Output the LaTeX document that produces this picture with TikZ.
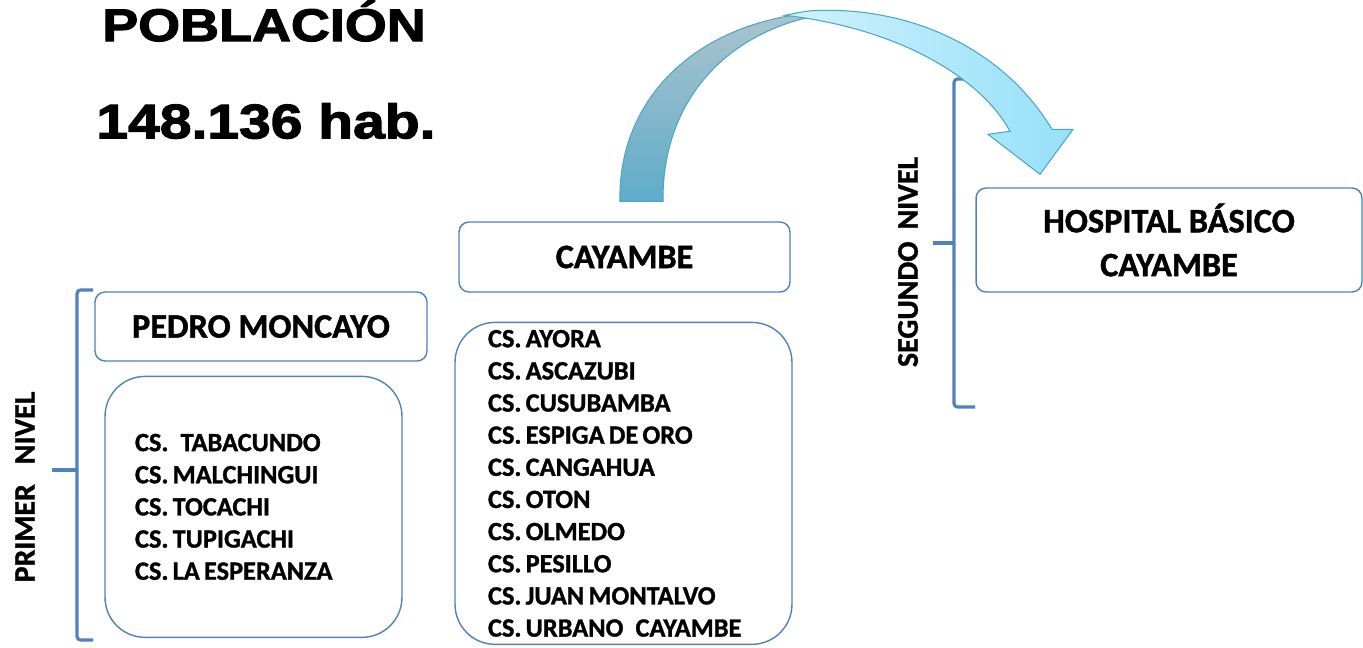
\documentclass[tikz,border=0pt]{standalone}
\usepackage{fontspec}
\setmainfont{Carlito}[BoldFeatures={FakeBold=1.2}]
\newfontfamily\titlefont[FakeStretch=1.18,FakeBold=2.5]{Liberation Sans Bold}
\usetikzlibrary{positioning}

\definecolor{boxblue}{RGB}{79,129,189}
\definecolor{arrowline}{RGB}{75,165,200}
\definecolor{arrowdark}{RGB}{95,172,202}
\definecolor{arrowgrey}{RGB}{172,196,205}
\definecolor{arrowlight}{RGB}{208,241,252}
\definecolor{arrowcyan}{RGB}{150,225,248}

\newcommand{\tightspaces}{\frenchspacing\spaceskip=0.16em\relax}

\tikzstyle{headbox} = [rectangle, rounded corners=0.2cm, draw=boxblue,
line width=0.8pt, fill=white, minimum width=6.64cm, minimum height=1.38cm,
align=center, font=\fontsize{19.5}{25}\selectfont\bfseries]
\tikzstyle{listbox} = [rectangle, rounded corners=0.8cm, draw=boxblue,
line width=0.8pt, align=left, font={\fontsize{15}{18.3}\selectfont\bfseries}]
\tikzstyle{bracket} = [draw=boxblue, line width=1.8pt, rounded corners=2pt]
\tikzstyle{levelname} = [rotate=90, font=\fontsize{17}{17}\selectfont\bfseries]
\tikzstyle{bigtitle} = [font=\titlefont\fontsize{26}{26}\selectfont]

\begin{document}
\begin{tikzpicture}[x=0.02cm, y=-0.02cm]
    \useasboundingbox (0,0) rectangle (1363,647);
    % Title
    \node (pob) [bigtitle] at (264,21) {POBLACIÓN};
    \node (hab) [bigtitle, font=\titlefont\fontsize{27.5}{28}\selectfont] at (266,121) {148.136 hab.};
    % Primer nivel
    \node (pedro) [headbox] at (261,326.5) {PEDRO MONCAYO};
    \node (pedrolist) [listbox, below=0.28cm of pedro, xshift=-0.15cm,
      minimum height=5.22cm, text width=4.74cm, inner xsep=0.6cm]
      {\tightspaces CS.\hspace{0.3em}\ TABACUNDO\\CS. MALCHINGUI\\CS. TOCACHI\\CS. TUPIGACHI\\CS. LA ESPERANZA};
    \node (cay) [headbox, minimum width=6.62cm, minimum height=1.4cm] at (624.5,257) {CAYAMBE};
    \node (caylist) [listbox, below=0.58cm of cay, xshift=-0.02cm,
      minimum height=6.44cm, text width=5.42cm, inner xsep=0.66cm]
      {\tightspaces CS. AYORA\\CS. ASCAZUBI\\CS. CUSUBAMBA\\CS. ESPIGA DE ORO\\CS. CANGAHUA\\
       CS. OTON\\CS. OLMEDO\\CS. PESILLO\\CS. JUAN MONTALVO\\CS. URBANO\hspace{0.3em}\ CAYAMBE};
    \node (primer) [levelname] at (25,487) {PRIMER\hspace{0.4cm}NIVEL};
    \draw [bracket] (93,290) -- (77,290) -- (77,640) -- (93,640);
    \draw [bracket] (52,470) -- (77,470);
    % Segundo nivel
    \node (hosp) [headbox, minimum width=7.72cm, minimum height=2.08cm] at (1169,240) {HOSPITAL BÁSICO\\CAYAMBE};
    \node (segundo) [levelname] at (908,262) {SEGUNDO\hspace{0.24cm}NIVEL};
    \draw [bracket] (975,79) -- (954,79) -- (954,407) -- (975,407);
    \draw [bracket] (933,243) -- (954,243);
    % Curved arrow from CAYAMBE to the hospital
    \begin{scope}[shift={(cay.north)}]
      \draw [arrowline, line width=0.6pt, top color=arrowgrey, bottom color=arrowdark]
        (-4.5,-20) .. controls (-7,-120) and (70,-205) .. (208.5,-210)
        -- (188.5,-205) .. controls (95.5,-185) and (37.5,-115) .. (38.5,-20) -- cycle;
      \draw [arrowline, line width=0.6pt, left color=arrowlight, right color=arrowcyan]
        (160.5,-206) .. controls (185.5,-211) .. (208.5,-211)
        .. controls (305.5,-209) and (385.5,-162) .. (427.5,-92)
        -- (448.5,-92) -- (415.5,-47) -- (363.5,-87) -- (385.5,-90)
        .. controls (358.5,-140) and (280.5,-192) .. (160.5,-206) -- cycle;
    \end{scope}
\end{tikzpicture}
\end{document}
